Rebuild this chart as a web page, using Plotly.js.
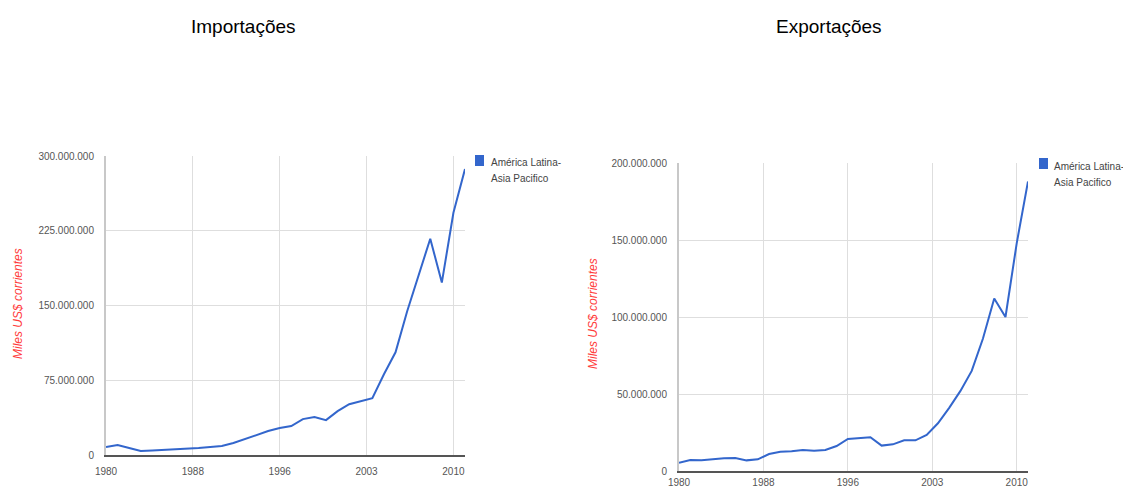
<!DOCTYPE html>
<html>
<head>
<meta charset="utf-8">
<script src="https://cdn.plot.ly/plotly-3.0.1.min.js"></script>
<style>
html,body{margin:0;padding:0;background:#fff;}
#chart{width:1123px;height:491px;}
</style>
</head>
<body>
<div id="chart"></div>
<script>
// ---- data (values in millions of US$) ----
const years = [1980,1981,1982,1983,1984,1985,1986,1987,1988,1989,1990,1991,1992,1993,1994,1995,
               1996,1997,1998,1999,2000,2001,2002,2003,2004,2005,2006,2007,2008,2009,2010,2011];
const importsM = [8,10,7,4,4.5,5,6,6.5,7,8,9,12,16,20,24,27,
                  29,36,38,35,44,51,54,57,81,103,144,181,217,173,243,287];
const exportsM = [5.4,7.1,6.9,7.6,8.2,8.4,6.9,7.6,11,12.5,12.8,13.6,13.2,13.6,16.2,20.8,
                  21.2,21.9,16.5,17.3,19.9,19.9,23.4,31,41,52,65,86,112,100,148,188];
const seriesName = ["América Latina-", "Asia Pacifico"];
const titles = ["Importações", "Exportações"];
const yTitle = "Miles US$ corrientes";
const xTickVals = [1980, 1987.5, 1995, 2002.5, 2010];
const xTickText = ["1980", "1988", "1996", "2003", "2010"];
const impTicks = [0, 75e6, 150e6, 225e6, 300e6];
const expTicks = [0, 50e6, 100e6, 150e6, 200e6];

// ---- layout helpers (pixel -> paper) ----
const W = 1123, H = 491;
const px = v => v / W;
const py = v => 1 - v / H;

const blue = "#3366cc";
const tickFont = {family: "Arial, Liberation Sans, sans-serif", size: 10, color: "#555"};

function xax(domain, standoff) {
  return {
    domain: domain, range: [1980, 2011], tickvals: xTickVals, ticktext: xTickText,
    showgrid: true, gridcolor: "#dedede", gridwidth: 1, zeroline: false,
    showline: true, linecolor: "#555", linewidth: 2, ticks: "", tickfont: tickFont,
    ticklabelstandoff: standoff, fixedrange: true
  };
}
function yax(domain, anchor, ticks, top) {
  return {
    domain: domain, anchor: anchor, range: [0, top], tickvals: ticks,
    tickformat: ",d", showgrid: true, gridcolor: "#dedede", gridwidth: 1, zeroline: false,
    showline: true, linecolor: "#c8c8c8", linewidth: 2, ticks: "", tickfont: tickFont,
    ticklabelstandoff: 8, fixedrange: true
  };
}

const traces = [
  {x: years, y: importsM.map(v => v * 1e6), type: "scatter", mode: "lines",
   line: {color: blue, width: 2}, xaxis: "x", yaxis: "y", showlegend: false, hoverinfo: "skip"},
  {x: years, y: exportsM.map(v => v * 1e6), type: "scatter", mode: "lines",
   line: {color: blue, width: 2}, xaxis: "x2", yaxis: "y2", showlegend: false, hoverinfo: "skip"}
];

const titleFont = {family: "Arial, Liberation Sans, sans-serif", size: 19, color: "#000"};
const legFont = {family: "Arial, Liberation Sans, sans-serif", size: 10, color: "#444"};
const yTitleFont = {family: "Arial, Liberation Sans, sans-serif", size: 12, color: "#ff3b3b"};

function ann(x, y, text, font, opts) {
  return Object.assign({xref: "paper", yref: "paper", x: px(x), y: py(y), text: text,
    showarrow: false, font: font, xanchor: "center", yanchor: "middle"}, opts || {});
}

const annotations = [
  ann(243, 27, titles[0], titleFont),
  ann(829, 27, titles[1], titleFont),
  ann(18, 304, "<i>" + yTitle + "</i>", yTitleFont, {textangle: -90}),
  ann(593, 314, "<i>" + yTitle + "</i>", yTitleFont, {textangle: -90}),
  ann(489, 162, seriesName[0], legFont, {xanchor: "left"}),
  ann(489, 178, seriesName[1], legFont, {xanchor: "left"}),
  ann(1052, 166, seriesName[0], legFont, {xanchor: "left"}),
  ann(1052, 182, seriesName[1], legFont, {xanchor: "left"})
];

const shapes = [
  {type: "rect", xref: "paper", yref: "paper", x0: px(475), x1: px(484), y0: py(155), y1: py(166),
   fillcolor: blue, line: {width: 0}},
  {type: "rect", xref: "paper", yref: "paper", x0: px(1039), x1: px(1048), y0: py(158), y1: py(169),
   fillcolor: blue, line: {width: 0}}
];

const layout = {
  width: W, height: H,
  margin: {l: 0, r: 0, t: 0, b: 0},
  paper_bgcolor: "#fff", plot_bgcolor: "#fff",
  separators: ",.",
  font: {family: "Arial, Liberation Sans, sans-serif"},
  xaxis: Object.assign(xax([px(106), px(465)], 6), {anchor: "y"}),
  yaxis: yax([py(455), py(156)], "x", impTicks, 300e6),
  xaxis2: Object.assign(xax([px(679), px(1028)], 1), {anchor: "y2"}),
  yaxis2: yax([py(471), py(163)], "x2", expTicks, 200e6),
  annotations: annotations,
  shapes: shapes,
  showlegend: false
};

Plotly.newPlot("chart", traces, layout, {staticPlot: true, displayModeBar: false});
</script>
</body>
</html>
